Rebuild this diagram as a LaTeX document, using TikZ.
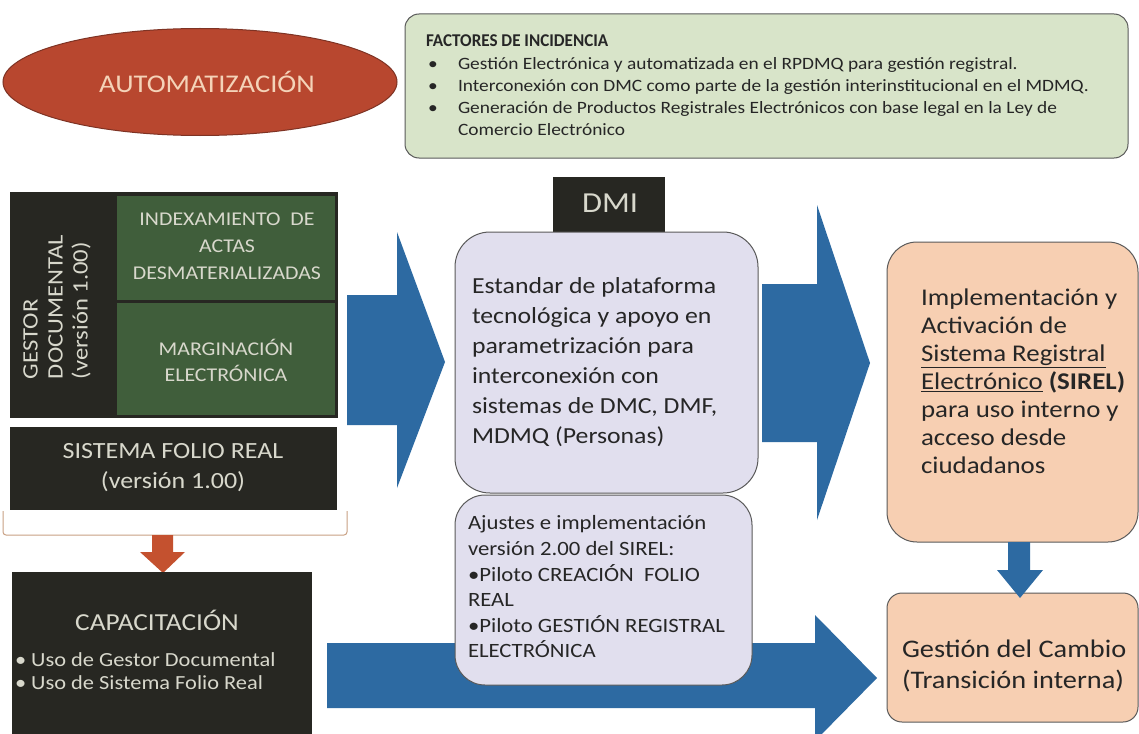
\documentclass[tikz,border=0pt]{standalone}
\usepackage{fontspec}
\setmainfont{Carlito}[FakeStretch=1.12]
\newfontfamily\titlefont{Carlito}[FakeStretch=0.95]
\usetikzlibrary{shapes.geometric}
\definecolor{ellred}{HTML}{B8472F}
\definecolor{ellbord}{HTML}{7E3324}
\definecolor{elltxt}{HTML}{F4D3B8}
\definecolor{factgreen}{HTML}{D8E4C9}
\definecolor{bordgray}{HTML}{5A5A5A}
\definecolor{darkbox}{HTML}{272722}
\definecolor{cellgreen}{HTML}{405E3B}
\definecolor{lighttxt}{HTML}{D8D8CC}
\definecolor{arrblue}{HTML}{2D6AA2}
\definecolor{arrred}{HTML}{C4512F}
\definecolor{lavender}{HTML}{E1DFEE}
\definecolor{peach}{HTML}{F7CFB2}
\definecolor{bracket}{HTML}{C9A184}
\definecolor{txtdark}{HTML}{262626}
\newcommand\fsz[2]{\fontsize{#1}{#2}\selectfont}
\begin{document}
\begin{tikzpicture}[x=1pt,y=-1pt,
  every node/.style={inner sep=0pt,outer sep=0pt},
  rbox/.style={draw=bordgray,line width=1pt,anchor=north west},
  darkrect/.style={fill=darkbox,anchor=north west},
  lt/.style={text=lighttxt,align=center},
  dt/.style={text=txtdark,align=left,anchor=west}]
\useasboundingbox (0,0) rectangle (1139,733);
\fill[white] (0,0) rectangle (1139,733);

% ellipse
\node[ellipse,draw=ellbord,line width=1pt,fill=ellred,minimum width=394pt,minimum height=107pt] (auto) at (200,82) {};
\node[text=elltxt,font=\fsz{25.5}{28}] (autot) at (207,82) {AUTOMATIZACIÓN};

% factores
\node[rbox,fill=factgreen,rounded corners=14pt,minimum width=723pt,minimum height=144pt] (fact) at (405,14) {};
\node[dt,font=\titlefont\fsz{18}{20}\bfseries] (facttitle) at (426,41) {FACTORES DE INCIDENCIA};
\node[dt,anchor=north west,font=\fsz{17.3}{22}] (factlist) at (428,57) {%
\makebox[30pt][l]{•}Gestión Electrónica y automatizada en el RPDMQ para gestión registral.\\
\makebox[30pt][l]{•}Interconexión con DMC como parte de la gestión interinstitucional en el MDMQ.\\
\makebox[30pt][l]{•}Generación de Productos Registrales Electrónicos con base legal en la Ley de\\
\hspace*{30pt}Comercio Electrónico};

% left block
\node[darkrect,minimum width=328pt,minimum height=226pt] (gd) at (10,192) {};
\node[fill=cellgreen,anchor=north west,minimum width=218pt,minimum height=104pt] (idx) at (117,196) {};
\node[fill=cellgreen,anchor=north west,minimum width=218pt,minimum height=112pt] (marg) at (117,303) {};
\node[lt,align=left,rotate=90,anchor=west,font=\fsz{22}{25}] (gdt) at (57,379) {GESTOR\\DOCUMENTAL\\(versión 1.00)};
\node[lt,font=\fsz{19.5}{27}] (idxt) at (227,246) {INDEXAMIENTO\ \ DE\\ACTAS\\DESMATERIALIZADAS};
\node[lt,font=\fsz{19.5}{26}] (margt) at (226,360) {MARGINACIÓN\\ELECTRÓNICA};

\node[darkrect,minimum width=327pt,minimum height=83pt] (sfr) at (10,427) {};
\node[lt,font=\fsz{23.2}{30}] (sfrt) at (173,468) {SISTEMA FOLIO REAL\\(versión 1.00)};

% bracket
\coordinate (brl) at (3,511);
\coordinate (brr) at (347,511);
\draw[bracket,line width=1pt,rounded corners=3pt] (brl) -- (3,535) -- (347,535) -- (brr);

% red arrow down
\fill[arrred] (152,535) -- (173,535) -- (173,552) -- (185,552) -- (163,573) -- (140,552) -- (152,552) -- cycle;

% capacitacion
\node[darkrect,minimum width=300pt,minimum height=170pt] (cap) at (12,572) {};
\node[lt,font=\fsz{24.4}{28}] (capt) at (157,620) {CAPACITACIÓN};
\node[lt,align=left,anchor=west,font=\fsz{20}{23}] (capl) at (15,671) {• Uso de Gestor Documental\\• Uso de Sistema Folio Real};

% blue arrows
\fill[arrblue] (347,295) -- (397,295) -- (397,232) -- (445,362) -- (397,488) -- (397,425) -- (347,425) -- cycle;
\fill[arrblue] (762,284) -- (817,284) -- (817,205) -- (870,363) -- (817,520) -- (817,442) -- (762,442) -- cycle;
\fill[arrblue] (327,643) -- (815,643) -- (815,615) -- (877,678) -- (815,741) -- (815,708) -- (327,708) -- cycle;

% DMI
\node[darkrect,minimum width=112pt,minimum height=56pt] (dmilab) at (553,177) {};
\node[text=lighttxt,font=\fsz{29}{30}] (dmit) at (610,203) {DMI};
\node[rbox,fill=lavender,rounded corners=35pt,minimum width=303pt,minimum height=261pt] (dmi1) at (455,232) {};
\node[dt,font=\fsz{23}{30}] (dmi1t) at (472,362) {Estandar de plataforma\\tecnológica y apoyo en\\parametrización para\\interconexión con\\sistemas de DMC, DMF,\\MDMQ (Personas)};
\node[rbox,fill=lavender,rounded corners=30pt,minimum width=297pt,minimum height=190pt] (dmi2) at (455,495) {};
\node[dt,font=\fsz{20.3}{25.6}] (dmi2t) at (468,587) {Ajustes e implementación\\versión 2.00 del SIREL:\\•Piloto CREACIÓN\ \ FOLIO\\REAL\\•Piloto GESTIÓN REGISTRAL\\ELECTRÓNICA};

% SIREL
\node[rbox,fill=peach,rounded corners=30pt,minimum width=251pt,minimum height=300pt] (sirel) at (887,242) {};
\node[dt,font=\fsz{24}{28}] (sirelt) at (921,381) {Implementación y\\Activación de\\\underline{Sistema Registral}\\\underline{Electrónico} \textbf{(SIREL)}\\para uso interno y\\acceso desde\\ciudadanos};
\node[rbox,fill=peach,rounded corners=15pt,minimum width=251pt,minimum height=129pt] (gc) at (887,593) {};
\node[dt,font=\fsz{25.3}{31}] (gct) at (902,666) {Gestión del Cambio\\(Transición interna)};
\fill[arrblue] (sirel.south -| 1008,0) -- (1030,542) -- (1030,570) -- (1043,570) -- (1020,598) -- (997,570) -- (1008,570) -- cycle;
\end{tikzpicture}
\end{document}
